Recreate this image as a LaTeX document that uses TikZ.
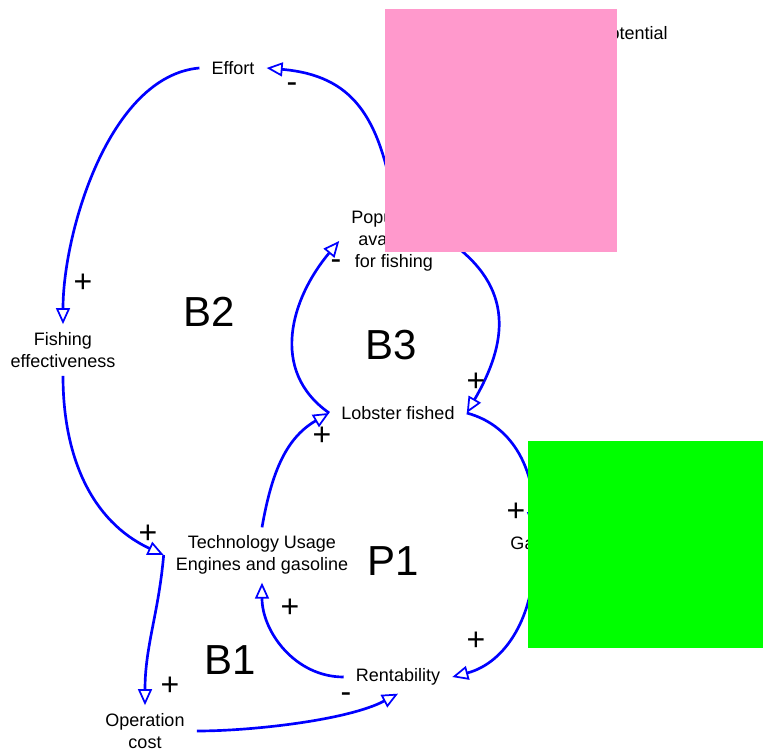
\documentclass[tikz,border=0pt]{standalone}
\usepackage{fontspec}
\setmainfont{Liberation Sans}
\usetikzlibrary{arrows.meta,positioning}
\definecolor{notepink}{RGB}{255,153,204}
\definecolor{notegreen}{RGB}{0,255,0}
\tikzset{
	varnode/.style={inner xsep=9pt,inner ysep=6pt,align=center,font=\fontsize{13.5}{16.5}\selectfont},
	polarity/.style={inner sep=0pt,font=\fontsize{24}{24}\selectfont},
	looplabel/.style={inner sep=0pt,font=\fontsize{31.5}{32}\selectfont},
	causal/.style={draw=blue,line width=2pt,-{Triangle[open,length=12pt,width=10.5pt,line width=1.3pt]}}
}

\begin{document}
\begin{tikzpicture}[x=0.75pt,y=0.75pt]
	\useasboundingbox (0,0) rectangle (763,-752);
	\begin{scope}
		\node[varnode] (effort) at (233,-68) {Effort};
		\node[varnode] (pop) at (394,-241) {Population\\available\\for fishing};
		\node[varnode,anchor=east] (potential) at (680,-35) {Reproductive potential};
		\node[varnode] (fish) at (63,-350) {Fishing\\effectiveness};
		\node[varnode] (lobster) at (398,-413) {Lobster fished};
		\node[varnode] (tech) at (262,-555) {Technology Usage\\Engines and gasoline};
		\node[varnode] (gains) at (534,-543) {Gains};
		\node[varnode] (rent) at (398,-677) {Rentability};
		\node[varnode] (opcost) at (145,-731) {Operation\\cost};

		\node[looplabel] (loopB2) at (209,-312) {B2};
		\node[looplabel] (loopB3) at (391,-345) {B3};
		\node[looplabel] (loopP1) at (393,-561) {P1};
		\node[looplabel] (loopB1) at (230,-660) {B1};
	\end{scope}

	\begin{scope}
		\draw[causal] (pop.north) to[out=100,in=-5,looseness=1.2] (effort.east);
		\draw[causal] (effort.west) to[out=185,in=90,looseness=0.8] (fish.north);
		\draw[causal] (fish.south) to[out=-90,in=155] (tech.west);
		\draw[causal] (tech.west) to[out=-95,in=90] (opcost.north);
		\draw[causal] (opcost.east) to[out=0,in=-152,looseness=0.7] (rent.south);
		\draw[causal] (rent.west) to[out=180,in=-90] (tech.south);
		\draw[causal] (tech.north) to[out=80,in=-150] (lobster.west);
		\draw[causal] (lobster.west) to[out=145,in=-130,looseness=1.1] (pop.west);
		\draw[causal] (pop.east) to[out=-35,in=60,looseness=1.2] (lobster.east);
		\draw[causal] (lobster.east) to[out=-15,in=90] (gains.north);
		\draw[causal] (gains.south) to[out=-90,in=15] (rent.east);
	\end{scope}

	\node[polarity] (sgnPopEff) at (292,-88) {-};
	\node[polarity] (sgnEffFish) at (83,-283) {+};
	\node[polarity] (sgnFishTech) at (148,-534) {+};
	\node[polarity] (sgnTechOp) at (170,-686) {+};
	\node[polarity] (sgnOpRent) at (346,-698) {-};
	\node[polarity] (sgnRentTech) at (290,-608) {+};
	\node[polarity] (sgnTechLob) at (322,-436) {+};
	\node[polarity] (sgnLobPop) at (336,-265) {-};
	\node[polarity] (sgnPopLob) at (476,-382) {+};
	\node[polarity] (sgnLobGain) at (516,-512) {+};
	\node[polarity] (sgnGainRent) at (476,-641) {+};

	% sticky notes on top
	\fill[notepink] (385,-9) rectangle (617,-252);
	\fill[notegreen] (528,-441) rectangle (763,-648);
\end{tikzpicture}
\end{document}
